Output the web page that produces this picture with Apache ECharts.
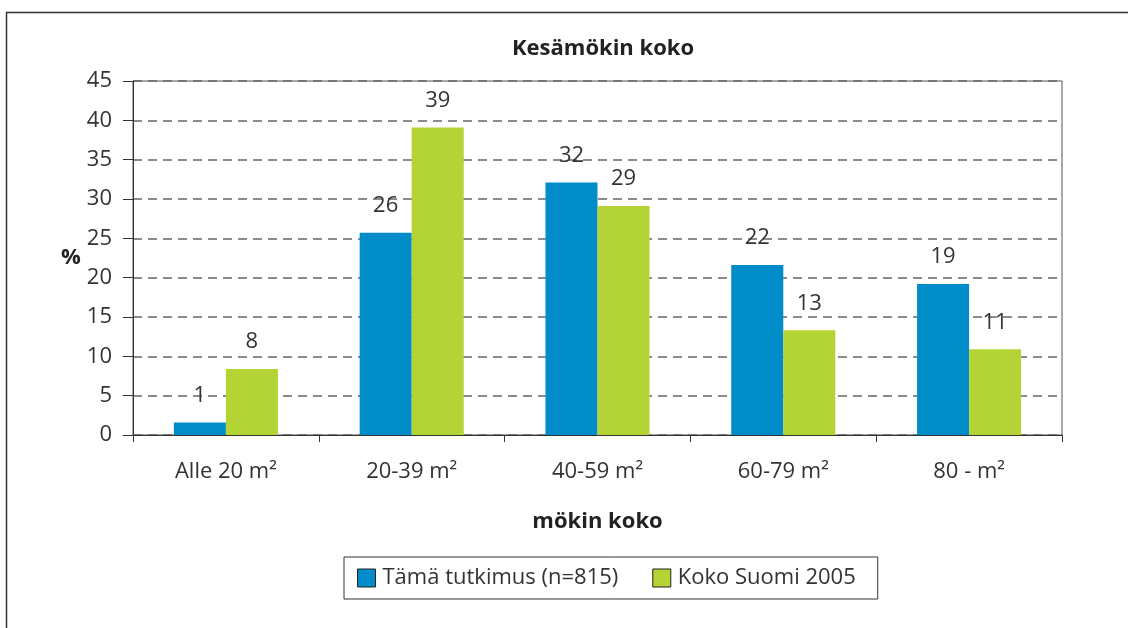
<!DOCTYPE html>
<html>
<head>
    <meta charset="utf-8">
    <title>Kesämökin koko</title>
    <script src="https://cdn.jsdelivr.net/npm/echarts@6.0.0/dist/echarts.min.js"></script>
    <style>
        html, body { margin: 0; padding: 0; background: #fff; }
        #main { width: 1128px; height: 628px; }
    </style>
</head>
<body>
    <div id="main"></div>
    <script>
        const categories = ['Alle 20 m²', '20-39 m²', '40-59 m²', '60-79 m²', '80 - m²'];
        const seriesNames = ['Tämä tutkimus (n=815)', 'Koko Suomi 2005'];
        const studyValues = [1.6, 25.7, 32.1, 21.6, 19.2];
        const studyLabels = [1, 26, 32, 22, 19];
        const finlandValues = [8.4, 39.1, 29.1, 13.3, 10.9];
        const finlandLabels = [8, 39, 29, 13, 11];
        const yTicks = [0, 5, 10, 15, 20, 25, 30, 35, 40, 45];

        const font = "'Open Sans', 'Noto Sans', sans-serif";
        const textColor = '#333333';

        var myChart = echarts.init(document.getElementById('main'));

        function barLabel(labels) {
            return {
                show: true,
                position: 'top',
                distance: 16,
                color: textColor,
                fontFamily: font,
                fontSize: 22,
                formatter: p => labels[p.dataIndex]
            };
        }

        const option = {
            backgroundColor: '#fff',
            animation: false,
            title: {
                text: 'Kesämökin koko',
                left: 598,
                top: 33,
                textAlign: 'center',
                textStyle: {
                    fontFamily: font,
                    fontSize: 22,
                    fontWeight: 'bold',
                    color: '#222'
                }
            },
            graphic: [{
                type: 'rect',
                shape: { x: 6.5, y: 12.5, width: 1140, height: 700 },
                style: { fill: 'none', stroke: '#333', lineWidth: 1.5 },
                silent: true
            }],
            grid: {
                left: 133,
                right: 66,
                top: 81,
                bottom: 193,
                show: true,
                borderColor: '#555',
                borderWidth: 1
            },
            legend: {
                data: seriesNames,
                left: 344,
                top: 557,
                orient: 'horizontal',
                padding: [10, 22, 10, 13],
                itemWidth: 18,
                itemHeight: 18,
                itemGap: 34,
                borderColor: '#333',
                borderWidth: 1,
                icon: 'rect',
                itemStyle: { borderColor: '#222', borderWidth: 1 },
                textStyle: {
                    fontFamily: font,
                    fontSize: 22,
                    color: textColor,
                    padding: [0, 0, 0, 2]
                }
            },
            xAxis: {
                type: 'category',
                data: categories,
                name: 'mökin koko',
                nameLocation: 'middle',
                nameGap: 76,
                nameTextStyle: {
                    fontFamily: font,
                    fontSize: 22,
                    fontWeight: 'bold',
                    color: '#222'
                },
                axisLine: { lineStyle: { color: '#333', width: 1 } },
                axisTick: { show: true, length: 7, lineStyle: { color: '#333' } },
                axisLabel: {
                    margin: 26,
                    fontFamily: font,
                    fontSize: 22,
                    color: textColor
                },
                splitLine: { show: false }
            },
            yAxis: {
                type: 'value',
                min: yTicks[0],
                max: yTicks[yTicks.length - 1],
                interval: 5,
                name: '%',
                nameLocation: 'middle',
                nameRotate: 0,
                nameGap: 51,
                nameTextStyle: {
                    fontFamily: font,
                    fontSize: 22,
                    fontWeight: 'bold',
                    color: '#222'
                },
                axisLine: { show: true, lineStyle: { color: '#333', width: 1 } },
                axisTick: { show: true, length: 10, lineStyle: { color: '#333' } },
                axisLabel: {
                    margin: 21,
                    fontFamily: font,
                    fontSize: 22,
                    color: textColor
                },
                splitLine: {
                    show: true,
                    lineStyle: { color: '#666', type: [9, 6], width: 1.5 }
                }
            },
            series: [
                {
                    name: seriesNames[0],
                    type: 'bar',
                    data: studyValues,
                    barGap: 0,
                    barCategoryGap: '44%',
                    itemStyle: { color: '#008bc9' },
                    label: barLabel(studyLabels)
                },
                {
                    name: seriesNames[1],
                    type: 'bar',
                    data: finlandValues,
                    itemStyle: { color: '#b4d334' },
                    label: barLabel(finlandLabels)
                }
            ]
        };

        myChart.setOption(option);
    </script>
</body>
</html>
